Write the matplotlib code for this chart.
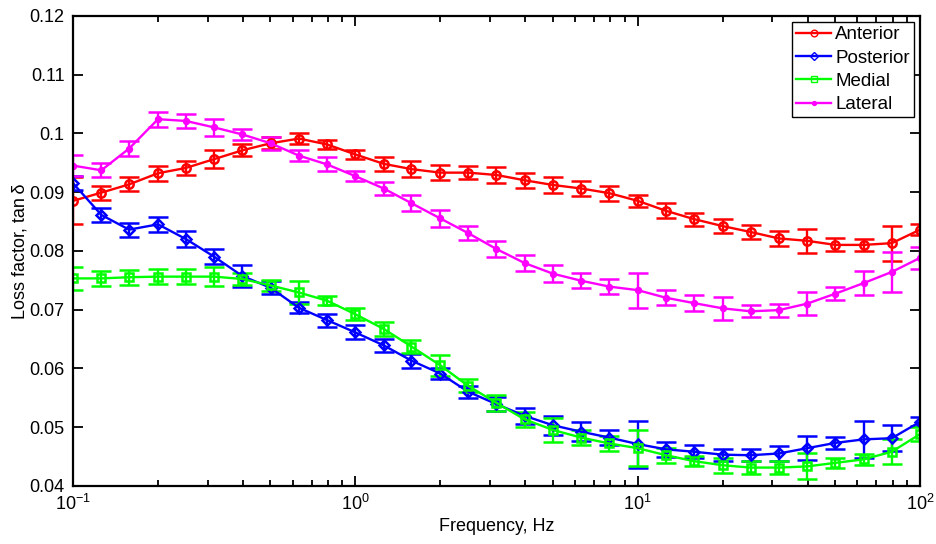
import matplotlib
matplotlib.use("Agg")
import matplotlib.pyplot as plt
from matplotlib.lines import Line2D
from matplotlib.ticker import FixedLocator, FixedFormatter, LogLocator, NullFormatter

plt.rcParams['font.family'] = ['Liberation Sans', 'DejaVu Sans']

# frequencies, Hz (10 per decade)
freq = [0.1, 0.126, 0.158, 0.2, 0.251, 0.316, 0.398, 0.501, 0.631, 0.794,
        1.0, 1.26, 1.58, 2.0, 2.51, 3.16, 3.98, 5.01, 6.31, 7.94,
        10.0, 12.6, 15.8, 20.0, 25.1, 31.6, 39.8, 50.1, 63.1, 79.4, 100.0]

anterior = [0.0885, 0.0899, 0.0913, 0.0932, 0.0941, 0.0956, 0.0971, 0.0983, 0.0991, 0.0981,
            0.0964, 0.0948, 0.0939, 0.0933, 0.0933, 0.0929, 0.0920, 0.0912, 0.0906, 0.0898,
            0.0885, 0.0868, 0.0854, 0.0842, 0.0832, 0.0821, 0.0817, 0.0810, 0.0810, 0.0813, 0.0836]
anterior_err = [0.0040, 0.0012, 0.0012, 0.0013, 0.0012, 0.0015, 0.0010, 0.0010, 0.0010, 0.0008,
                0.0008, 0.0012, 0.0013, 0.0013, 0.0011, 0.0013, 0.0013, 0.0013, 0.0013, 0.0013,
                0.0010, 0.0013, 0.0011, 0.0012, 0.0012, 0.0013, 0.0020, 0.0011, 0.0010, 0.0030, 0.0009]

posterior = [0.0915, 0.0861, 0.0836, 0.0845, 0.0820, 0.0790, 0.0757, 0.0737, 0.0703, 0.0682,
             0.0661, 0.0639, 0.0613, 0.0591, 0.0560, 0.0539, 0.0519, 0.0503, 0.0492, 0.0482,
             0.0471, 0.0462, 0.0458, 0.0453, 0.0452, 0.0455, 0.0464, 0.0473, 0.0479, 0.0481, 0.0509]
posterior_err = [0.0012, 0.0012, 0.0012, 0.0013, 0.0013, 0.0013, 0.0018, 0.0011, 0.0009, 0.0011,
                 0.0012, 0.0011, 0.0012, 0.0010, 0.0010, 0.0012, 0.0014, 0.0016, 0.0016, 0.0013,
                 0.0040, 0.0013, 0.0011, 0.0010, 0.0010, 0.0013, 0.0020, 0.0010, 0.0032, 0.0022, 0.0008]

medial = [0.0753, 0.0753, 0.0755, 0.0756, 0.0756, 0.0756, 0.0752, 0.0741, 0.0729, 0.0715,
          0.0692, 0.0667, 0.0637, 0.0605, 0.0570, 0.0541, 0.0513, 0.0495, 0.0482, 0.0472,
          0.0464, 0.0452, 0.0442, 0.0435, 0.0431, 0.0431, 0.0433, 0.0439, 0.0445, 0.0458, 0.0488]
medial_err = [0.0020, 0.0013, 0.0013, 0.0013, 0.0013, 0.0016, 0.0011, 0.0010, 0.0020, 0.0008,
              0.0010, 0.0012, 0.0011, 0.0018, 0.0011, 0.0013, 0.0013, 0.0021, 0.0013, 0.0013,
              0.0031, 0.0013, 0.0009, 0.0013, 0.0011, 0.0011, 0.0022, 0.0009, 0.0009, 0.0021, 0.0012]

lateral = [0.0945, 0.0937, 0.0974, 0.1024, 0.1021, 0.1010, 0.0998, 0.0983, 0.0962, 0.0947,
           0.0927, 0.0906, 0.0881, 0.0855, 0.0830, 0.0803, 0.0779, 0.0761, 0.0749, 0.0739,
           0.0733, 0.0720, 0.0711, 0.0702, 0.0697, 0.0699, 0.0710, 0.0727, 0.0745, 0.0764, 0.0788]
lateral_err = [0.0018, 0.0012, 0.0013, 0.0013, 0.0012, 0.0014, 0.0009, 0.0011, 0.0010, 0.0012,
               0.0008, 0.0011, 0.0014, 0.0015, 0.0012, 0.0013, 0.0013, 0.0014, 0.0013, 0.0013,
               0.0030, 0.0013, 0.0013, 0.0020, 0.0010, 0.0011, 0.0019, 0.0011, 0.0021, 0.0034, 0.0019]

yticks = [0.04, 0.05, 0.06, 0.07, 0.08, 0.09, 0.1, 0.11, 0.12]
ytick_labels = ['0.04', '0.05', '0.06', '0.07', '0.08', '0.09', '0.1', '0.11', '0.12']

fig = plt.figure(figsize=(9.36, 5.44), dpi=100)
ax = fig.add_axes([0.078, 0.107, 0.905, 0.864])

series = [
    ('Anterior', anterior, anterior_err, '#ff0000', 'o', 6),
    ('Posterior', posterior, posterior_err, '#0000ff', 'D', 5),
    ('Medial', medial, medial_err, '#00ff00', 's', 5.5),
    ('Lateral', lateral, lateral_err, '#ff00ff', '.', 7),
]
handles = []
for name, y, err, c, m, ms in series:
    fc = c if m == '.' else 'none'
    ax.errorbar(freq, y, yerr=err, color=c, marker=m, markersize=ms,
                markerfacecolor=fc, markeredgewidth=1.8,
                linewidth=1.7, elinewidth=1.7, capsize=7, capthick=1.7)
    handles.append(Line2D([], [], color=c, marker=m, markersize=ms * 0.8,
                          markerfacecolor=fc, markeredgewidth=1.0,
                          linewidth=1.7, label=name))

ax.set_xscale('log')
ax.set_xlim(0.1, 100)
ax.set_ylim(0.04, 0.12)
ax.yaxis.set_major_locator(FixedLocator(yticks))
ax.yaxis.set_major_formatter(FixedFormatter(ytick_labels))
ax.xaxis.set_minor_locator(LogLocator(base=10, subs=range(2, 10)))
ax.xaxis.set_minor_formatter(NullFormatter())

ax.tick_params(which='both', direction='in', top=True, right=True, labelsize=13, width=1.3)
ax.tick_params(which='major', length=7, pad=6)
ax.tick_params(which='minor', length=4)
for s in ax.spines.values():
    s.set_linewidth(1.6)

ax.set_xlabel('Frequency, Hz', fontsize=13, labelpad=3)
ax.set_ylabel('Loss factor, tan\u2009δ', fontsize=13, labelpad=1)

leg = ax.legend(handles=handles, loc='upper right', fontsize=13.5, frameon=True,
                fancybox=False, edgecolor='black', framealpha=1, borderpad=0.2,
                labelspacing=0.33, handlelength=1.9, handletextpad=0.2,
                borderaxespad=0.35)
leg.get_frame().set_linewidth(1.0)

fig.savefig('out.png', dpi=100, facecolor='white')
